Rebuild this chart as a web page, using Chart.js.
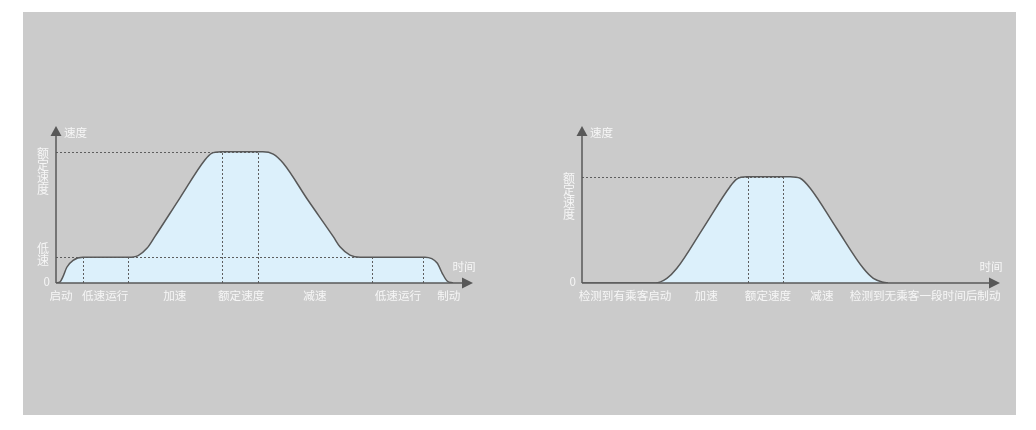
<!DOCTYPE html>
<html><head><meta charset="utf-8">
<script src="https://cdn.jsdelivr.net/npm/chart.js@4/dist/chart.umd.min.js"></script>
<style>
html,body{margin:0;padding:0;background:#fff;width:1036px;height:430px;overflow:hidden}
#bg{position:absolute;left:23px;top:12px;width:993px;height:403px;background:#cbcbcb}
canvas{position:absolute;left:0;top:0}
</style></head><body>
<div id="bg"></div>
<canvas id="c1" width="1036" height="430"></canvas>
<canvas id="c2" width="1036" height="430"></canvas>
<script>
// ---- Left chart data ----
const leftTime  = [0, 1, 1.7, 2.6, 4.1, 6.5, 17.3, 19.7, 21.8, 23.7, 29.7, 35.7, 37.3, 39.6, 49.6, 52.1, 54.5, 60.4, 66.5, 68.1, 70.5, 72.9, 88.5, 91.4, 92.6, 93.8, 95.2];
const leftSpeed = [0, 1, 5, 12, 17.3, 19.6, 19.6, 20.9, 26.4, 35.3, 64.7, 93.7, 98.8, 100, 100, 98.2, 91.2, 63.2, 35.3, 27.6, 21.3, 19.6, 19.6, 15.2, 7.6, 1.5, 0];
const leftPhaseLabels = ['启动', '低速运行', '加速', '额定速度', '减速', '低速运行', '制动'];
const leftPhaseTicks  = [1.2, 11.8, 28.5, 44.4, 62.1, 82.0, 94.2];
const leftMarkTimes   = [6.5, 17.3, 39.8, 48.4, 75.8, 88.0];
const leftMarkSpeeds  = [19.6, 19.6, 100, 100, 19.6, 19.6];
const leftLevelSpeeds = [100, 19.6];
const leftLevelEnds   = [48.4, 72.9];
const leftLevelLabels = ['额定速度', '低速'];

// ---- Right chart data ----
const rightTime  = [0, 17.5, 20.3, 22.7, 29.0, 35.4, 37.0, 39.4, 49.8, 52.2, 54.6, 60.9, 67.3, 69.7, 72.1, 73.2];
const rightSpeed = [0, 0, 4.4, 13.8, 51.7, 90.6, 97.8, 100, 100, 98.5, 89.1, 51.5, 13.8, 4.4, 0.7, 0];
const rightPhaseLabels = ['检测到有乘客启动', '加速', '额定速度', '减速', '检测到无乘客一段时间后制动'];
const rightPhaseTicks  = [10.3, 29.7, 44.5, 57.4, 82.1];
const rightMarkTimes   = [39.7, 48.1];
const rightMarkSpeeds  = [100, 100];
const rightLevelSpeeds = [100];
const rightLevelEnds   = [48.1];
const rightLevelLabels = ['额定速度'];

const FONT = '11.6px "Noto Sans CJK SC", "Noto Sans", sans-serif';
const VFONT = '12px "Noto Sans CJK SC", "Noto Sans", sans-serif';
const TXT = '#f6f6f6';
const INK = '#585858';

function overlay(o){
  return {
    id:'overlay',
    afterDatasetsDraw(chart){
      const {ctx, scales:{x,y}, chartArea:a} = chart;
      const y0 = y.getPixelForValue(0);
      ctx.save();
      // dashed guides
      ctx.strokeStyle = '#5e5e5e'; ctx.lineWidth = 1; ctx.setLineDash([2,2]);
      o.levels.forEach((v,i)=>{
        const py = Math.round(y.getPixelForValue(v)) + 0.5;
        ctx.beginPath(); ctx.moveTo(a.left, py); ctx.lineTo(x.getPixelForValue(o.levelEnds[i]), py); ctx.stroke();
      });
      o.markT.forEach((t,i)=>{
        const px = Math.round(x.getPixelForValue(t)) + 0.5;
        ctx.beginPath(); ctx.moveTo(px, y0); ctx.lineTo(px, y.getPixelForValue(o.markV[i])); ctx.stroke();
      });
      ctx.setLineDash([]);
      // axes
      ctx.strokeStyle = INK; ctx.fillStyle = INK; ctx.lineWidth = 1.5;
      ctx.beginPath(); ctx.moveTo(a.left, y0); ctx.lineTo(a.right - 9, y0); ctx.stroke();
      ctx.beginPath(); ctx.moveTo(a.right, y0); ctx.lineTo(a.right - 11, y0 - 5.5); ctx.lineTo(a.right - 11, y0 + 5.5); ctx.closePath(); ctx.fill();
      ctx.beginPath(); ctx.moveTo(a.left, y0); ctx.lineTo(a.left, a.top + 9); ctx.stroke();
      ctx.beginPath(); ctx.moveTo(a.left, a.top); ctx.lineTo(a.left - 5.5, a.top + 10); ctx.lineTo(a.left + 5.5, a.top + 10); ctx.closePath(); ctx.fill();
      // texts
      ctx.font = FONT; ctx.fillStyle = TXT;
      ctx.textBaseline = 'middle';
      ctx.textAlign = 'left';
      ctx.fillText('速度', a.left + 8, a.top + 7);
      ctx.textAlign = 'center';
      ctx.fillText('时间', a.right - 9, y0 - 16);
      o.phaseLabels.forEach((s,i)=> ctx.fillText(s, x.getPixelForValue(o.phaseTicks[i]), y0 + 13));
      ctx.textAlign = 'right';
      ctx.fillText('0', a.left - 6, y0 - 1);
      ctx.textAlign = 'center';
      ctx.font = VFONT;
      o.levelLabels.forEach((s,i)=>{
        const py = y.getPixelForValue(o.levels[i]);
        const chars = [...s];
        const start = chars.length > 2 ? py + 1.5 : py - 9;
        const step = chars.length > 2 ? 12.2 : 12.5;
        chars.forEach((c,k)=> ctx.fillText(c, a.left - 13, start + k * step));
      });
      ctx.restore();
    }
  };
}

function makeChart(id, times, speeds, ymax, pad, o){
  return new Chart(document.getElementById(id), {
    type:'line',
    data:{ datasets:[{
      data: times.map((t,i)=>({x:t, y:speeds[i]})),
      borderColor: INK, borderWidth: 1.5,
      backgroundColor: '#dcf0fb', fill: 'origin',
      cubicInterpolationMode: 'monotone', pointRadius: 0
    }]},
    options:{
      responsive:false, animation:false, devicePixelRatio:1,
      layout:{padding:pad},
      plugins:{legend:{display:false}, tooltip:{enabled:false}},
      scales:{
        x:{type:'linear', min:0, max:100, display:false},
        y:{type:'linear', min:0, max:ymax, display:false}
      }
    },
    plugins:[overlay(o)]
  });
}

makeChart('c1', leftTime, leftSpeed, 119.6, {left:56, right:563, top:126, bottom:147}, {
  levels:leftLevelSpeeds, levelEnds:leftLevelEnds, levelLabels:leftLevelLabels,
  markT:leftMarkTimes, markV:leftMarkSpeeds, phaseLabels:leftPhaseLabels, phaseTicks:leftPhaseTicks
});
makeChart('c2', rightTime, rightSpeed, 147.7, {left:582, right:36, top:126, bottom:147}, {
  levels:rightLevelSpeeds, levelEnds:rightLevelEnds, levelLabels:rightLevelLabels,
  markT:rightMarkTimes, markV:rightMarkSpeeds, phaseLabels:rightPhaseLabels, phaseTicks:rightPhaseTicks
});
</script>
</body></html>
